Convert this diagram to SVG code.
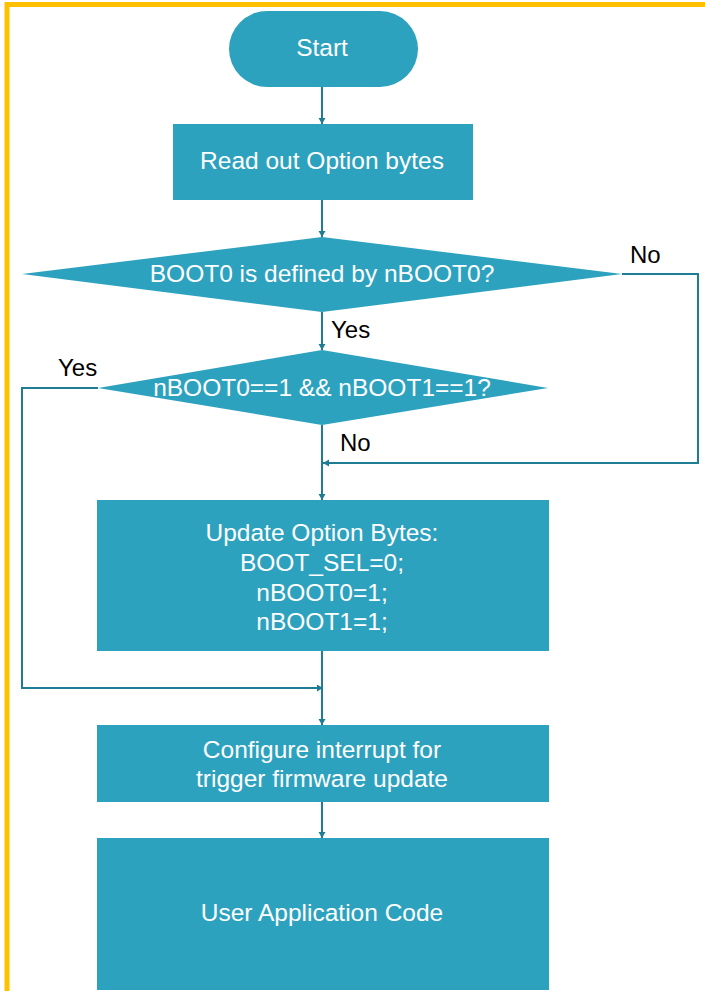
<svg xmlns="http://www.w3.org/2000/svg" width="705" height="991" viewBox="0 0 705 991">
<style>
.n{fill:#2DA2BF}
.t{font-family:"Liberation Sans",Arial,sans-serif;font-size:24.5px;fill:#fff;text-anchor:middle}
.l{font-family:"Liberation Sans",Arial,sans-serif;font-size:24px;fill:#000}
.c{fill:none;stroke:#1F7C95;stroke-width:2}
</style>
<defs>
<marker id="a" markerUnits="userSpaceOnUse" markerWidth="8" markerHeight="8" refX="6" refY="3.5" orient="auto">
<path d="M0,0 L6,3.5 L0,7 Z" fill="#1F7C95"/>
</marker>
</defs>
<rect x="7" y="4.5" width="800" height="1100" fill="none" stroke="#FFC000" stroke-width="5"/>
<g id="connectors">
<path class="c" d="M322,87 V124" marker-end="url(#a)"/>
<path class="c" d="M322,200 V237" marker-end="url(#a)"/>
<path class="c" d="M322,312 V350" marker-end="url(#a)"/>
<path class="c" d="M622,274 H698 V463 H323" marker-end="url(#a)"/>
<path class="c" d="M322,425 V500" marker-end="url(#a)"/>
<path class="c" d="M98,388 H22 V688 H323" marker-end="url(#a)"/>
<path class="c" d="M322,651 V725" marker-end="url(#a)"/>
<path class="c" d="M322,802 V838" marker-end="url(#a)"/>
</g>
<g id="start">
<rect class="n" x="229" y="11" width="189" height="76" rx="38" ry="38"/>
<text class="t" x="322" y="56">Start</text>
</g>
<g id="readout">
<rect class="n" x="173" y="124" width="300" height="76"/>
<text class="t" x="322" y="169">Read out Option bytes</text>
</g>
<g id="dec1">
<polygon class="n" points="22,274 322,237 622,274 322,312"/>
<text class="t" x="322" y="282">BOOT0 is defined by nBOOT0?</text>
</g>
<g id="dec2">
<polygon class="n" points="98,388 322,350 548,388 322,425"/>
<text class="t" x="322" y="396">nBOOT0==1 &amp;&amp; nBOOT1==1?</text>
</g>
<g id="labels">
<text class="l" x="630" y="263">No</text>
<text class="l" x="331" y="338">Yes</text>
<text class="l" x="58" y="376">Yes</text>
<text class="l" x="340" y="451">No</text>
</g>
<g id="update">
<rect class="n" x="97" y="500" width="452" height="151"/>
<text class="t" x="322" y="541">Update Option Bytes:</text>
<text class="t" x="322" y="571">BOOT_SEL=0;</text>
<text class="t" x="322" y="601">nBOOT0=1;</text>
<text class="t" x="322" y="630">nBOOT1=1;</text>
</g>
<g id="configure">
<rect class="n" x="97" y="725" width="452" height="77"/>
<text class="t" x="322" y="758">Configure interrupt for</text>
<text class="t" x="322" y="787">trigger firmware update</text>
</g>
<g id="user">
<rect class="n" x="97" y="838" width="452" height="152"/>
<text class="t" x="322" y="921">User Application Code</text>
</g>
</svg>
